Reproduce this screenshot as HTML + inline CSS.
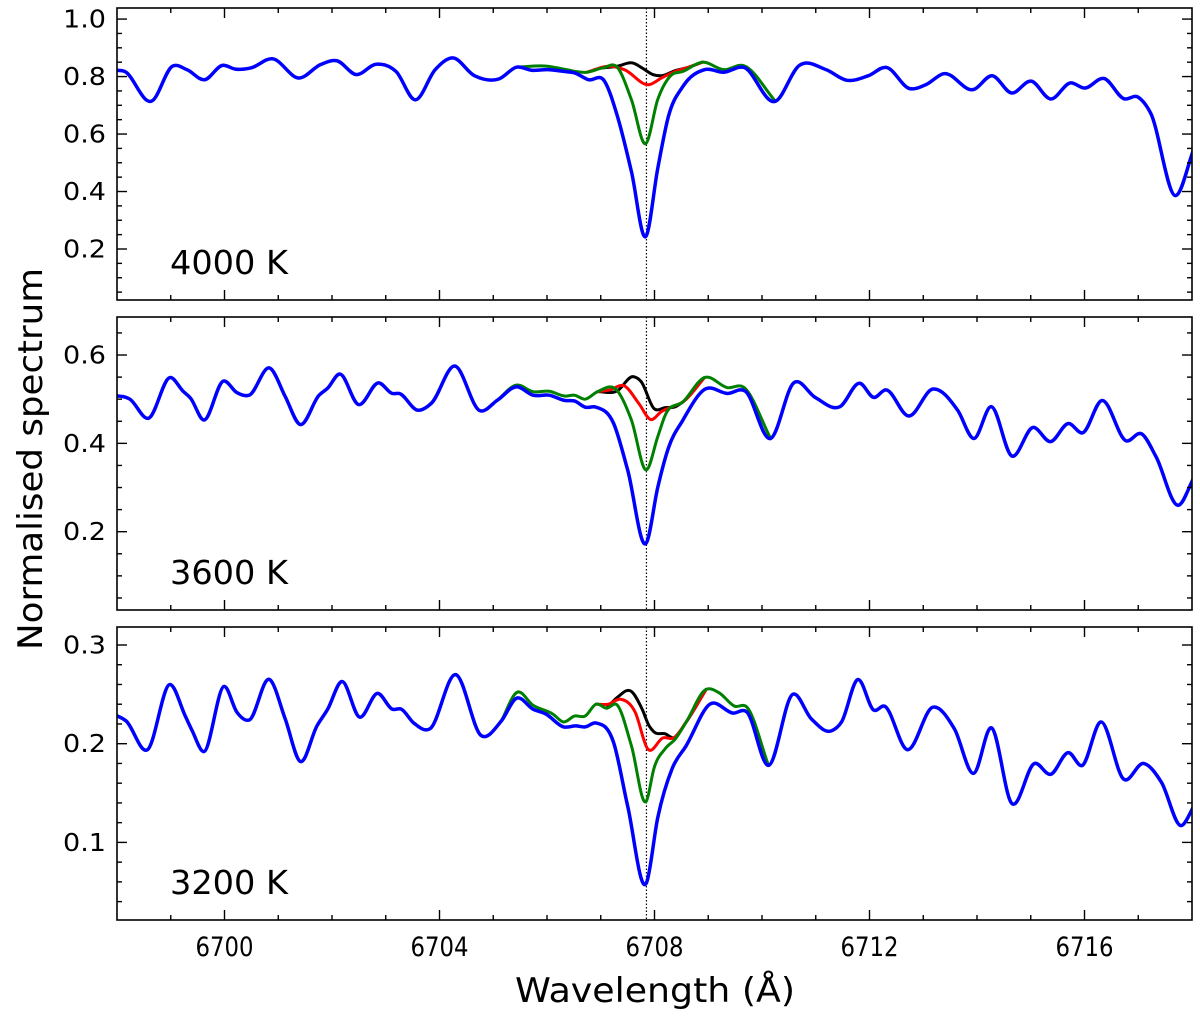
<!DOCTYPE html>
<html><head><meta charset="utf-8"><style>
html,body{margin:0;padding:0;background:#fff;}
svg{display:block;font-family:"DejaVu Sans","Liberation Sans",sans-serif;}
</style></head><body>
<svg id="fig" width="1200" height="1016" viewBox="0 0 1200 1016" xmlns="http://www.w3.org/2000/svg"></svg>
<script>
// ---------- shared x-axis ----------
const xTickMajor = [6700, 6704, 6708, 6712, 6716];
const xTickMinor = [6699,6701,6702,6703,6705,6706,6707,6709,6710,6711,6713,6714,6715,6717];
const liLine = 6707.85;

// ---------- panel 1 (4000 K) ----------
const p1BlueX = [6697.87,6698.14,6698.65,6699.03,6699.30,6699.63,6699.96,6700.20,6700.49,6700.89,6701.39,6701.79,6702.09,6702.45,6702.82,6703.19,6703.55,6703.92,6704.24,6704.65,6705.11,6705.44,6705.71,6706.01,6706.31,6706.51,6706.77,6707.07,6707.31,6707.57,6707.84,6708.06,6708.26,6708.53,6708.93,6709.29,6709.66,6710.25,6710.69,6711.19,6711.58,6711.98,6712.31,6712.75,6713.05,6713.38,6713.94,6714.28,6714.64,6715.01,6715.37,6715.74,6716.00,6716.37,6716.73,6717.00,6717.23,6717.70,6718.03];
const p1BlueY = [0.821,0.818,0.715,0.836,0.824,0.789,0.839,0.826,0.830,0.862,0.795,0.842,0.855,0.807,0.843,0.818,0.719,0.824,0.865,0.803,0.792,0.833,0.822,0.824,0.818,0.813,0.789,0.784,0.662,0.470,0.244,0.480,0.662,0.766,0.824,0.815,0.832,0.714,0.838,0.824,0.787,0.803,0.832,0.758,0.772,0.810,0.755,0.803,0.743,0.784,0.722,0.778,0.760,0.793,0.723,0.728,0.673,0.386,0.546];
const p1GreenX = [6705.44,6706.01,6706.31,6706.74,6707.04,6707.31,6707.57,6707.84,6708.06,6708.29,6708.53,6708.89,6709.29,6709.66,6710.25];
const p1GreenY = [0.833,0.836,0.826,0.815,0.830,0.832,0.720,0.567,0.720,0.801,0.818,0.850,0.824,0.838,0.714];
const p1RedX = [6706.74,6707.17,6707.44,6707.90,6708.13,6708.39,6708.59,6708.89];
const p1RedY = [0.815,0.836,0.824,0.772,0.795,0.818,0.830,0.850];
const p1BlackX = [6707.04,6707.31,6707.60,6707.77,6707.97,6708.13,6708.39,6708.59,6708.89];
const p1BlackY = [0.830,0.836,0.847,0.830,0.807,0.803,0.821,0.830,0.850];

// ---------- panel 2 (3600 K) ----------
const p2BlueX = [6697.87,6698.24,6698.59,6698.99,6699.23,6699.37,6699.61,6699.98,6700.23,6700.46,6700.85,6701.13,6701.40,6701.76,6701.92,6702.14,6702.49,6702.87,6703.12,6703.25,6703.60,6703.85,6704.28,6704.75,6705.08,6705.43,6705.74,6706.04,6706.34,6706.51,6706.71,6706.91,6707.24,6707.50,6707.85,6708.06,6708.26,6708.53,6708.93,6709.36,6709.69,6710.16,6710.59,6710.99,6711.45,6711.82,6712.08,6712.30,6712.73,6713.18,6713.64,6713.94,6714.27,6714.64,6715.04,6715.37,6715.70,6715.97,6716.32,6716.77,6717.07,6717.33,6717.75,6718.03];
const p2BlueY = [0.509,0.500,0.457,0.549,0.518,0.502,0.453,0.541,0.515,0.509,0.570,0.506,0.443,0.509,0.525,0.557,0.488,0.537,0.513,0.513,0.475,0.491,0.575,0.474,0.498,0.528,0.509,0.509,0.497,0.496,0.482,0.482,0.445,0.340,0.175,0.300,0.390,0.453,0.522,0.513,0.518,0.411,0.537,0.504,0.483,0.536,0.504,0.521,0.462,0.523,0.475,0.411,0.483,0.372,0.436,0.404,0.445,0.424,0.497,0.406,0.421,0.370,0.260,0.321];
const p2GreenX = [6705.08,6705.43,6705.74,6706.04,6706.34,6706.51,6706.71,6706.94,6707.31,6707.57,6707.85,6708.06,6708.20,6708.53,6708.93,6709.36,6709.66,6710.16];
const p2GreenY = [0.498,0.532,0.517,0.518,0.507,0.509,0.500,0.517,0.519,0.453,0.340,0.415,0.464,0.494,0.549,0.526,0.527,0.411];
const p2RedX = [6706.94,6707.17,6707.44,6707.71,6707.93,6708.13,6708.33,6708.53,6708.93];
const p2RedY = [0.517,0.521,0.530,0.490,0.454,0.472,0.483,0.494,0.549];
const p2BlackX = [6706.94,6707.31,6707.60,6707.75,6707.99,6708.20,6708.39,6708.53,6708.93];
const p2BlackY = [0.517,0.519,0.551,0.540,0.479,0.481,0.483,0.494,0.549];

// ---------- panel 3 (3200 K) ----------
const p3BlueX = [6697.87,6698.17,6698.57,6698.99,6699.27,6699.40,6699.61,6700.00,6700.23,6700.46,6700.84,6701.13,6701.41,6701.72,6701.92,6702.18,6702.51,6702.85,6703.12,6703.29,6703.52,6703.82,6704.30,6704.78,6705.15,6705.43,6705.74,6705.98,6706.31,6706.54,6706.71,6706.91,6707.24,6707.50,6707.85,6708.06,6708.33,6708.59,6709.03,6709.46,6709.72,6710.12,6710.57,6710.92,6711.29,6711.48,6711.78,6712.08,6712.28,6712.70,6713.18,6713.58,6713.94,6714.27,6714.64,6715.07,6715.37,6715.70,6715.96,6716.30,6716.73,6717.10,6717.43,6717.80,6718.03];
const p3BlueY = [0.231,0.223,0.194,0.260,0.228,0.213,0.192,0.258,0.232,0.224,0.265,0.225,0.182,0.218,0.235,0.263,0.227,0.251,0.235,0.235,0.221,0.215,0.270,0.208,0.223,0.246,0.235,0.230,0.217,0.218,0.217,0.221,0.201,0.137,0.059,0.125,0.175,0.198,0.240,0.231,0.232,0.178,0.250,0.225,0.213,0.222,0.265,0.234,0.238,0.194,0.237,0.215,0.170,0.216,0.140,0.180,0.169,0.191,0.178,0.222,0.164,0.180,0.161,0.117,0.136];
const p3GreenX = [6705.15,6705.44,6705.74,6706.11,6706.31,6706.51,6706.71,6706.91,6707.11,6707.31,6707.57,6707.85,6707.99,6708.20,6708.39,6708.59,6708.96,6709.19,6709.49,6709.72,6710.12];
const p3GreenY = [0.223,0.252,0.239,0.230,0.222,0.228,0.228,0.240,0.236,0.239,0.198,0.142,0.175,0.195,0.205,0.222,0.255,0.252,0.238,0.237,0.178];
const p3RedX = [6706.91,6707.14,6707.37,6707.64,6707.87,6708.16,6708.36,6708.59,6708.96];
const p3RedY = [0.240,0.240,0.245,0.232,0.195,0.206,0.206,0.222,0.255];
const p3BlackX = [6707.11,6707.31,6707.57,6707.77,6707.90,6707.99,6708.20,6708.36,6708.59,6708.96];
const p3BlackY = [0.236,0.247,0.253,0.235,0.218,0.212,0.210,0.206,0.222,0.255];

// ---------- y-axis tick labels ----------
const p1YMajor = [0.2,0.4,0.6,0.8,1.0];
const p1YLabels = ["0.2","0.4","0.6","0.8","1.0"];
const p2YMajor = [0.2,0.4,0.6];
const p2YLabels = ["0.2","0.4","0.6"];
const p3YMajor = [0.1,0.2,0.3];
const p3YLabels = ["0.1","0.2","0.3"];
const panelLabels = ["4000 K","3600 K","3200 K"];

const NS = "http://www.w3.org/2000/svg";
const svg = document.getElementById('fig');
const X0 = 117, X1 = 1192, XMIN = 6698, XMAX = 6718;
function xs(l){ return X0 + (l - XMIN) * (X1 - X0) / (XMAX - XMIN); }
function mk(tag, attrs, parent){
  const e = document.createElementNS(NS, tag);
  for (const k in attrs) e.setAttribute(k, attrs[k]);
  (parent || svg).appendChild(e);
  return e;
}
// cubic Hermite with finite-difference slopes (good for function graphs)
function smoothPath(px, py){
  const n = px.length, m = [];
  for (let i = 0; i < n; i++){
    if (i === 0) m.push((py[1]-py[0])/(px[1]-px[0]));
    else if (i === n-1) m.push((py[n-1]-py[n-2])/(px[n-1]-px[n-2]));
    else {
      const s0 = (py[i]-py[i-1])/(px[i]-px[i-1]), s1 = (py[i+1]-py[i])/(px[i+1]-px[i]);
      const h0 = px[i]-px[i-1], h1 = px[i+1]-px[i];
      m.push((s0*h1 + s1*h0)/(h0+h1));
    }
  }
  let d = "M" + px[0].toFixed(2) + "," + py[0].toFixed(2);
  for (let i = 0; i < n-1; i++){
    const h = px[i+1]-px[i];
    d += " C" + (px[i]+h/3).toFixed(2) + "," + (py[i]+m[i]*h/3).toFixed(2) + " " +
         (px[i+1]-h/3).toFixed(2) + "," + (py[i+1]-m[i+1]*h/3).toFixed(2) + " " +
         px[i+1].toFixed(2) + "," + py[i+1].toFixed(2);
  }
  return d;
}

const panels = [
  {top:8, bottom:300, ref:0.2, refY:249, scale:287.4, major:p1YMajor, labels:p1YLabels, minorStep:0.05, minorFrom:0.05,
   series:[[p1BlackX,p1BlackY,'#000000'],[p1RedX,p1RedY,'#ff0000'],[p1GreenX,p1GreenY,'#008000'],[p1BlueX,p1BlueY,'#0000ff']]},
  {top:317, bottom:610, ref:0.2, refY:531.7, scale:441.7, major:p2YMajor, labels:p2YLabels, minorStep:0.05, minorFrom:0.05,
   series:[[p2BlackX,p2BlackY,'#000000'],[p2RedX,p2RedY,'#ff0000'],[p2GreenX,p2GreenY,'#008000'],[p2BlueX,p2BlueY,'#0000ff']]},
  {top:627, bottom:920, ref:0.3, refY:645, scale:987, major:p3YMajor, labels:p3YLabels, minorStep:0.02, minorFrom:0.04,
   series:[[p3BlackX,p3BlackY,'#000000'],[p3RedX,p3RedY,'#ff0000'],[p3GreenX,p3GreenY,'#008000'],[p3BlueX,p3BlueY,'#0000ff']]}
];
const seriesNames = ['model-black','model-red','model-green','model-blue'];

panels.forEach((p, pi) => {
  const ys = v => p.refY - (v - p.ref) * p.scale;
  const g = mk('g', {});
  
  
  const cid = 'clip' + pi;
  const cp = mk('clipPath', {id: cid}, g);
  mk('rect', {x: X0, y: p.top, width: X1 - X0, height: p.bottom - p.top}, cp);

  const li = mk('line', {x1: xs(liLine), x2: xs(liLine), y1: p.top, y2: p.bottom, stroke: '#000', 'stroke-width': 1.2, 'stroke-dasharray': '1.5,2'}, g);
  
  

  const sg = mk('g', {'clip-path': 'url(#' + cid + ')'}, g);
  p.series.forEach((s, si) => {
    const px = s[0].map(xs), py = s[1].map(ys);
    const path = mk('path', {d: smoothPath(px, py), fill: 'none', stroke: s[2], 'stroke-width': si === 3 ? 3.5 : 3, 'stroke-linejoin': 'round', 'stroke-linecap': 'round'}, sg);
    
    
  });

  const tg = mk('g', {stroke: '#000', 'stroke-width': 1.4}, g);
  xTickMajor.forEach(v => {
    const x = xs(v);
    mk('line', {x1: x, x2: x, y1: p.bottom, y2: p.bottom - 10}, tg);
    mk('line', {x1: x, x2: x, y1: p.top, y2: p.top + 10}, tg);
  });
  xTickMinor.forEach(v => {
    const x = xs(v);
    mk('line', {x1: x, x2: x, y1: p.bottom, y2: p.bottom - 5}, tg);
    mk('line', {x1: x, x2: x, y1: p.top, y2: p.top + 5}, tg);
  });
  for (let v = p.minorFrom; v < 1.2; v += p.minorStep) {
    const y = ys(v);
    if (y < p.top + 1 || y > p.bottom - 1) continue;
    const isMajor = p.major.some(m => Math.abs(m - v) < 1e-6);
    const L = isMajor ? 10 : 5;
    mk('line', {x1: X0, x2: X0 + L, y1: y, y2: y}, tg);
    mk('line', {x1: X1, x2: X1 - L, y1: y, y2: y}, tg);
  }
  p.major.forEach((v, i) => {
    const t = mk('text', {x: 106, y: ys(v) + 8.5, 'text-anchor': 'end', 'font-size': 25, fill: '#000', textLength: 43, lengthAdjust: 'spacingAndGlyphs'}, g);
    t.textContent = p.labels[i];
    
    
  });

  const fr = mk('rect', {x: X0, y: p.top, width: X1 - X0, height: p.bottom - p.top, fill: 'none', stroke: '#000', 'stroke-width': 1.6}, g);
  
  

  const lab = mk('text', {x: 170, y: p.bottom - 26, 'font-size': 33, fill: '#000', textLength: 118, lengthAdjust: 'spacingAndGlyphs'}, g);
  lab.textContent = panelLabels[pi];
  
  
});

xTickMajor.forEach(v => {
  const t = mk('text', {x: xs(v), y: 956, 'text-anchor': 'middle', 'font-size': 27, fill: '#000', textLength: 58, lengthAdjust: 'spacingAndGlyphs'});
  t.textContent = String(v);
  
  
});
const xt = mk('text', {x: 655, y: 1002, 'text-anchor': 'middle', 'font-size': 34, fill: '#000', textLength: 280, lengthAdjust: 'spacingAndGlyphs'});
xt.textContent = 'Wavelength (Å)';


const yt = mk('text', {x: 0, y: 0, 'text-anchor': 'middle', 'font-size': 34, fill: '#000', textLength: 382, lengthAdjust: 'spacingAndGlyphs', transform: 'translate(42,459) rotate(-90)'});
yt.textContent = 'Normalised spectrum';


</script>
</body></html>
